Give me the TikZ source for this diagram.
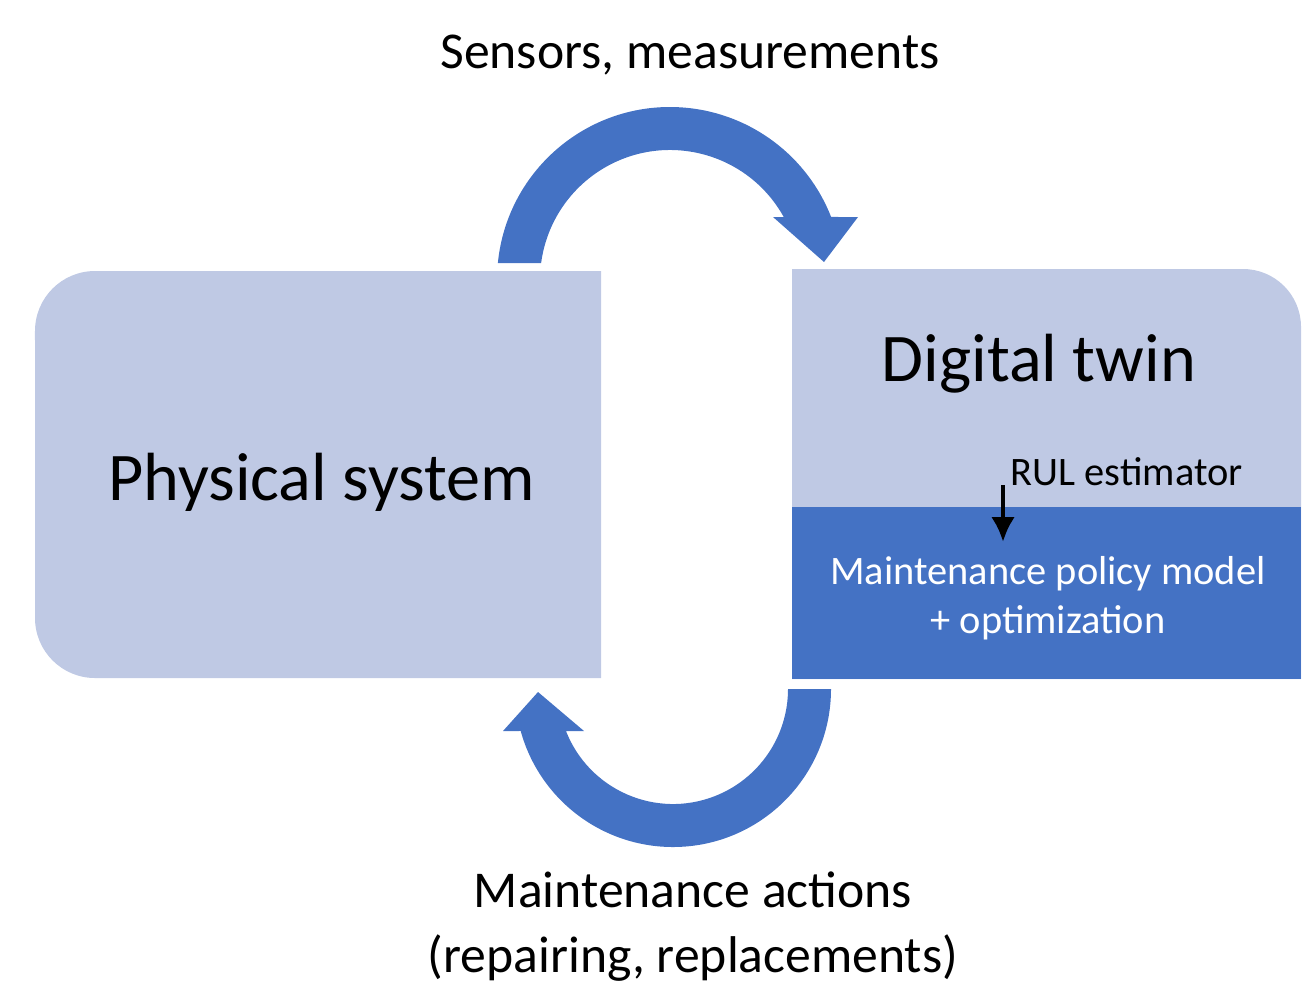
\documentclass[tikz,border=0pt]{standalone}
\usepackage{fontspec}
\setmainfont{Carlito}
\usetikzlibrary{arrows.meta,calc}
\definecolor{boxlight}{RGB}{191,201,228}
\definecolor{flowblue}{RGB}{68,114,196}

\begin{document}
\begin{tikzpicture}[
	bigtext/.style={inner sep=0,anchor=base,font=\fontsize{19.4}{23}\selectfont},
	midtext/.style={inner sep=0,anchor=base,align=center,font=\fontsize{14.7}{18.5}\selectfont},
	smalltext/.style={inner sep=0,anchor=base,align=center,font=\fontsize{11.5}{13.7}\selectfont}]
	\useasboundingbox (0,0) rectangle (13.03,9.89);
	% boxes
	\fill[boxlight] (6.01,3.11) -- (6.01,7.18) -- (0.95,7.18) arc[start angle=90,end angle=180,radius=0.6] -- (0.35,3.71) arc[start angle=180,end angle=270,radius=0.6] -- cycle;
	\fill[boxlight] (7.92,3.10) -- (7.92,7.20) -- (12.43,7.20) arc[start angle=90,end angle=0,radius=0.58] -- (13.01,3.10) -- cycle;
	\fill[flowblue] (7.92,3.10) rectangle (13.01,4.82);
	% texts (multi-line nodes sit on their last baseline)
	\node[bigtext] (phys) at (3.215,4.89) {Physical system};
	\node[bigtext] (twin) at (10.39,6.08) {Digital twin};
	\node[smalltext,anchor=base west] (rul) at (10.10,5.04) {RUL estimator};
	\node[smalltext,text=white] (policy) at (10.48,3.56) {Maintenance policy model\\+ optimization};
	\node[midtext] (sensors) at (6.90,9.21) {Sensors, measurements};
	\node[midtext] (actions) at (6.93,0.17) {Maintenance actions\\(repairing, replacements)};
	% RUL arrow
	\coordinate (rultop) at (10.03,5.04);
	\coordinate (rulend) at (10.03,4.47);
	\draw[line width=1.4pt,-{Latex[length=2.5mm,width=2.4mm]}] (rultop) -- (rulend);
	% curved arrows
	\coordinate (topc) at (6.70,7.09);
	\coordinate (botc) at (6.73,3.00);
	\fill[flowblue] ($(topc)+(174.36:1.73)$) arc[start angle=174.36,end angle=21.36,radius=1.73] -- (8.58,7.72) -- (8.24,7.27) -- (7.73,7.72) -- ($(topc)+(28.99:1.30)$) arc[start angle=28.99,end angle=172.49,radius=1.30] -- cycle;
	\fill[flowblue] ($(botc)+(0:1.58)$) arc[start angle=0,end angle=-164.59,radius=1.58] -- (5.03,2.58) -- (5.38,2.97) -- (5.84,2.58) -- ($(botc)+(-158.58:1.15)$) arc[start angle=-158.58,end angle=0,radius=1.15] -- cycle;
\end{tikzpicture}
\end{document}
